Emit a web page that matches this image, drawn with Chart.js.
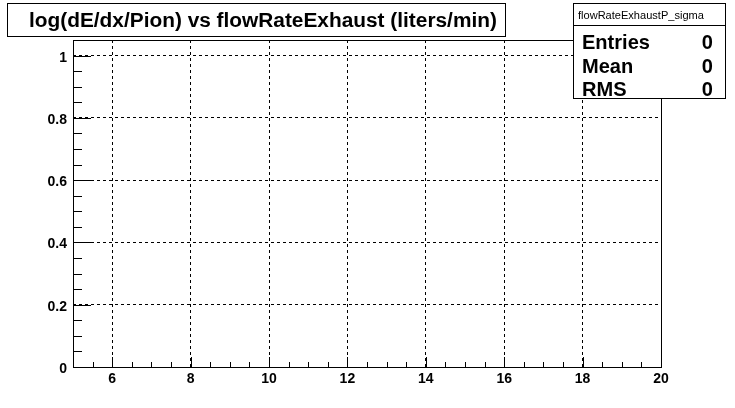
<!DOCTYPE html>
<html>
<head>
<meta charset="utf-8">
<script src="https://cdn.jsdelivr.net/npm/chart.js@4/dist/chart.umd.min.js"></script>
<style>
  html, body { margin: 0; padding: 0; background: #fff; }
  #c { display: block; }
</style>
</head>
<body>
<canvas id="c" width="735" height="408"></canvas>
<script>
// histogram is empty, so no points
const points = [];
const xRange = [5, 20];
const yRange = [0, 1.05];
const xMajor = [6, 8, 10, 12, 14, 16, 18, 20];
const yMajor = [0, 0.2, 0.4, 0.6, 0.8, 1];
const xMinorStep = 0.5;
const yMinorStep = 0.05;

const titleText = 'log(dE/dx/Pion) vs flowRateExhaust (liters/min)';
const statsName = 'flowRateExhaustP_sigma';
const statsRows = [['Entries', '0'], ['Mean', '0'], ['RMS', '0']];

const FONT = '"Liberation Sans", Arial, Helvetica, sans-serif';

// fit a string into a given width
function fitFont(ctx, text, width, weight) {
  ctx.font = weight + ' 100px ' + FONT;
  const w = ctx.measureText(text).width;
  return weight + ' ' + (100 * width / w).toFixed(2) + 'px ' + FONT;
}

const rootFrame = {
  id: 'rootFrame',
  afterDraw(chart) {
    const ctx = chart.ctx;
    const xs = chart.scales.x, ys = chart.scales.y;
    const a = chart.chartArea;
    ctx.save();
    ctx.strokeStyle = '#000';
    ctx.lineWidth = 1;
    ctx.setLineDash([]);

    // frame
    ctx.strokeRect(Math.round(a.left) + 0.5, Math.round(a.top) + 0.5,
      Math.round(a.right - a.left), Math.round(a.bottom - a.top));

    // x ticks (pointing up from the bottom)
    ctx.beginPath();
    for (let v = xRange[0]; v <= xRange[1] + 1e-9; v += xMinorStep) {
      const px = Math.round(xs.getPixelForValue(v)) + 0.5;
      const major = xMajor.some(m => Math.abs(m - v) < 1e-6);
      const len = major ? 10 : 5;
      ctx.moveTo(px, a.bottom);
      ctx.lineTo(px, a.bottom - len);
    }
    // y ticks (pointing right from the left)
    for (let v = yRange[0]; v <= 1 + 1e-9; v += yMinorStep) {
      const py = Math.round(ys.getPixelForValue(v)) + 0.5;
      const major = yMajor.some(m => Math.abs(m - v) < 1e-6);
      const len = major ? 18 : 9;
      ctx.moveTo(a.left, py);
      ctx.lineTo(a.left + len, py);
    }
    ctx.stroke();

    // tick labels
    ctx.fillStyle = '#000';
    ctx.font = 'bold 14px ' + FONT;
    ctx.textAlign = 'center';
    ctx.textBaseline = 'alphabetic';
    xMajor.forEach(v => {
      ctx.fillText(String(v), xs.getPixelForValue(v), a.bottom + 16);
    });
    ctx.textAlign = 'right';
    yMajor.forEach(v => {
      ctx.fillText(String(v), a.left - 6, ys.getPixelForValue(v) + 6);
    });

    // title box
    ctx.fillStyle = '#fff';
    ctx.fillRect(7, 3, 499, 34);
    ctx.strokeRect(7.5, 3.5, 498, 33);
    ctx.fillStyle = '#000';
    ctx.font = fitFont(ctx, titleText, 468, 'bold');
    ctx.textAlign = 'left';
    ctx.fillText(titleText, 29, 27);

    // stats box
    ctx.fillStyle = '#fff';
    ctx.fillRect(573, 3, 153, 96);
    ctx.strokeRect(573.5, 3.5, 152, 95);
    ctx.beginPath();
    ctx.moveTo(573, 25.5);
    ctx.lineTo(726, 25.5);
    ctx.stroke();
    ctx.fillStyle = '#000';
    ctx.font = fitFont(ctx, statsName, 126, 'normal');
    ctx.fillText(statsName, 578, 19);
    ctx.font = fitFont(ctx, 'Entries', 68, 'bold');
    const rowY = [49, 73, 96];
    statsRows.forEach((r, i) => {
      ctx.textAlign = 'left';
      ctx.fillText(r[0], 582, rowY[i]);
      ctx.textAlign = 'right';
      ctx.fillText(r[1], 713, rowY[i]);
    });
    ctx.restore();
  }
};

new Chart(document.getElementById('c'), {
  type: 'scatter',
  data: {
    datasets: [{ label: statsName, data: points, pointRadius: 2, backgroundColor: '#000' }]
  },
  options: {
    responsive: false,
    animation: false,
    events: [],
    layout: { padding: { left: 73, top: 40, right: 74, bottom: 41 } },
    plugins: { legend: { display: false }, tooltip: { enabled: false }, title: { display: false } },
    scales: {
      x: {
        type: 'linear',
        min: xRange[0],
        max: xRange[1],
        afterBuildTicks: s => { s.ticks = xMajor.map(v => ({ value: v })); },
        ticks: { display: false },
        border: { display: false, dash: [3, 3] },
        grid: { color: '#000', lineWidth: 1, drawTicks: false, tickLength: 0 },
        afterFit: s => { s.height = 0; }
      },
      y: {
        type: 'linear',
        min: yRange[0],
        max: yRange[1],
        afterBuildTicks: s => { s.ticks = yMajor.map(v => ({ value: v })); },
        ticks: { display: false },
        border: { display: false, dash: [3, 3] },
        grid: { color: '#000', lineWidth: 1, drawTicks: false, tickLength: 0 },
        afterFit: s => { s.width = 0; }
      }
    }
  },
  plugins: [rootFrame]
});
</script>
</body>
</html>
